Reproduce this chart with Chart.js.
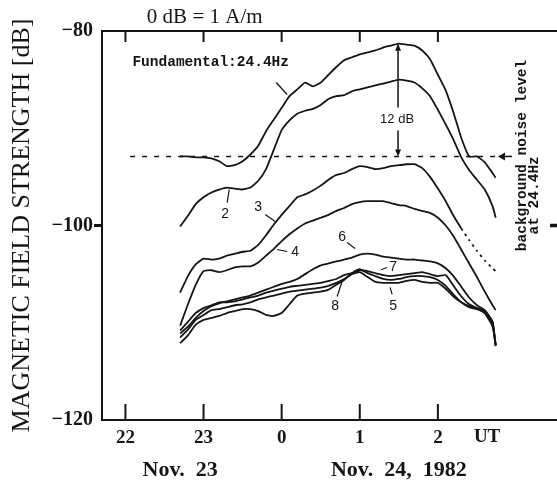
<!DOCTYPE html>
<html><head><meta charset="utf-8">
<script src="https://cdn.jsdelivr.net/npm/chart.js@4.4.0/dist/chart.umd.min.js"></script>
<style>html,body{margin:0;padding:0;background:#fff;}#wrap{width:557px;height:488px;}</style>
</head><body><div id="wrap"><canvas id="c" width="557" height="488"></canvas></div>
<script>
// time axis: hours relative to 0 UT, Nov. 24 (22 = -2, 23 = -1)
const hours = [-1.3,-1.2,-1.1,-1.0,-0.9,-0.8,-0.7,-0.6,-0.5,-0.4,-0.3,-0.2,-0.1,0.0,0.1,0.2,0.3,0.4,0.5,0.6,0.7,0.8,0.9,1.0,1.1,1.2,1.3,1.4,1.5,1.6,1.7,1.8,1.9,2.0,2.1,2.2,2.3,2.4,2.5,2.6,2.7,2.74];
const fundamental = [-92.9,-92.9,-93.0,-93.0,-93.1,-93.4,-93.9,-93.8,-93.4,-92.7,-91.8,-90.3,-89.1,-87.9,-86.7,-86.0,-85.3,-85.7,-85.3,-84.5,-83.7,-83.0,-82.7,-82.4,-82.2,-82.0,-81.7,-81.5,-81.3,-81.4,-81.5,-82.0,-82.9,-84.5,-86.1,-88.4,-91.0,-92.9,-92.9,-93.5,-94.6,-95.1];
const harmonic2 = [-100.1,-99.0,-97.8,-97.1,-96.6,-96.3,-96.1,-96.2,-96.3,-96.1,-95.4,-94.2,-92.2,-90.2,-89.2,-88.5,-88.2,-88.0,-87.6,-87.0,-86.7,-86.6,-86.2,-86.0,-85.8,-85.6,-85.4,-85.2,-85.0,-85.1,-85.3,-85.9,-86.7,-88.1,-89.6,-91.2,-93.0,-94.3,-95.3,-96.3,-98.0,-99.2];
const harmonic3 = [-106.9,-105.2,-104.0,-103.4,-103.5,-103.4,-103.1,-102.9,-102.7,-102.6,-102.0,-101.0,-99.9,-98.9,-98.0,-97.1,-96.8,-96.4,-95.9,-95.3,-94.8,-94.6,-94.2,-93.9,-94.0,-94.2,-94.1,-93.9,-93.8,-93.7,-93.7,-94.1,-95.0,-96.2,-97.5,-99.0,-100.3,-101.5,-102.6,-103.6,-104.4,-104.7];
const harmonic4 = [-110.3,-108.1,-106.1,-104.7,-104.6,-104.8,-104.6,-104.3,-104.2,-104.2,-103.8,-103.1,-102.4,-101.6,-100.9,-100.3,-99.8,-99.5,-99.2,-98.9,-98.5,-98.2,-97.8,-97.6,-97.5,-97.5,-97.5,-97.7,-97.9,-98.0,-98.3,-98.5,-98.7,-99.2,-100.0,-101.1,-102.5,-103.9,-105.3,-106.8,-108.2,-108.7];
const harmonic5 = [-111.5,-110.7,-109.7,-109.2,-108.7,-108.6,-108.4,-108.2,-108.1,-107.9,-107.6,-107.4,-107.2,-107.0,-106.8,-106.7,-106.6,-106.5,-106.4,-106.2,-105.9,-105.5,-105.0,-104.8,-105.3,-105.8,-105.9,-105.9,-105.9,-105.7,-105.6,-105.8,-105.9,-105.9,-106.5,-107.3,-107.9,-108.3,-108.5,-108.8,-109.9,-112.4];
const harmonic6 = [-111.1,-110.4,-109.5,-108.8,-108.3,-108.0,-107.8,-107.6,-107.4,-107.2,-106.9,-106.6,-106.3,-106.0,-105.8,-105.5,-105.0,-104.5,-104.1,-103.9,-103.7,-103.5,-103.3,-103.0,-102.9,-103.0,-103.2,-103.3,-103.4,-103.5,-103.5,-103.6,-103.7,-103.9,-104.4,-105.2,-106.3,-107.4,-108.2,-108.7,-109.9,-112.3];
const harmonic7 = [-110.8,-109.9,-109.0,-108.5,-108.2,-107.9,-107.9,-107.8,-107.6,-107.4,-107.2,-106.9,-106.7,-106.5,-106.3,-106.2,-106.1,-106.0,-105.9,-105.7,-105.5,-105.1,-104.9,-104.6,-104.7,-104.9,-105.1,-105.2,-105.1,-105.0,-104.9,-104.8,-105.0,-105.2,-105.1,-106.2,-107.3,-108.1,-108.5,-109.0,-110.4,-112.3];
const harmonic8 = [-112.1,-111.3,-110.2,-109.7,-109.5,-109.3,-109.0,-108.8,-108.6,-108.6,-108.8,-109.2,-109.3,-109.0,-108.1,-107.2,-107.0,-106.9,-106.8,-106.6,-106.1,-105.6,-104.9,-104.5,-104.9,-105.2,-105.5,-105.6,-105.5,-105.3,-105.2,-105.2,-105.3,-105.6,-106.2,-107.1,-107.9,-108.4,-108.6,-109.0,-110.2,-112.3];
const harmonic3DottedFrom = 2.3;      // curve 3 continues dotted after this hour
const noiseLevel = -92.9;             // background noise level at 24.4 Hz
const noiseSpan = [-1.94, 2.76];
const xTickValues = [-2, -1, 0, 1, 2];
const xTickLabels = ['22', '23', '0', '1', '2'];
const yTickValues = [-80, -100, -120];
const yTickLabels = ['\u221280', '\u2212100', '\u2212120'];
const xRange = [-2.3, 3.525];
const yRange = [-120, -80];

const INK = '#151515';
const pts = arr => hours.map((h, i) => ({x: h, y: arr[i]}));
const curve = (label, arr, extra) => Object.assign({
  label, data: pts(arr), borderColor: INK, borderWidth: 1.8, pointRadius: 0, tension: 0.15, fill: false
}, extra || {});

const datasets = [
  {label: 'noise', data: [{x: noiseSpan[0], y: noiseLevel}, {x: noiseSpan[1], y: noiseLevel}],
   borderColor: INK, borderWidth: 1.6, borderDash: [5, 7], pointRadius: 0, fill: false},
  curve('1', fundamental),
  curve('2', harmonic2),
  curve('3', harmonic3, {segment: {borderDash: c => c.p0.parsed.x >= harmonic3DottedFrom - 1e-6 ? [2.5, 4] : undefined}}),
  curve('4', harmonic4),
  curve('5', harmonic5),
  curve('6', harmonic6),
  curve('7', harmonic7),
  curve('8', harmonic8)
];

const serif = 'Liberation Serif, Times New Roman, serif';
const mono = 'Liberation Mono, Courier New, monospace';
const sans = 'Liberation Sans, Arial, sans-serif';

const deco = {
  id: 'deco',
  afterDraw(chart) {
    const ctx = chart.ctx, a = chart.chartArea, xs = chart.scales.x, ys = chart.scales.y;
    const X = v => xs.getPixelForValue(v), Y = v => ys.getPixelForValue(v);
    const line = (x1, y1, x2, y2, w) => { ctx.lineWidth = w || 1.5; ctx.beginPath(); ctx.moveTo(x1, y1); ctx.lineTo(x2, y2); ctx.stroke(); };
    ctx.save();
    ctx.strokeStyle = INK; ctx.fillStyle = INK; ctx.setLineDash([]);
    // frame: left, top, bottom
    line(a.left, a.top, a.left, a.bottom, 2);
    line(a.left - 1, a.top, a.right, a.top, 2);
    line(a.left - 1, a.bottom, a.right, a.bottom, 2);
    // inward time ticks
    xTickValues.forEach(v => { line(X(v), a.top, X(v), a.top + 11, 2); line(X(v), a.bottom, X(v), a.bottom - 16, 2); });
    // outward tick at -100 (left) and stub at right
    line(a.left - 8, Y(-100), a.left, Y(-100), 3);
    line(a.right - 7, Y(-100), a.right, Y(-100), 3.5);
    // header
    ctx.font = '21px ' + serif; ctx.textAlign = 'center'; ctx.textBaseline = 'middle';
    ctx.fillText('0 dB = 1 A/m', X(-0.985), a.top - 14);
    // UT + dates
    ctx.font = 'bold 19px ' + serif;
    ctx.fillText('UT', X(2.63), a.bottom + 17);
    ctx.font = 'bold 22px ' + serif;
    ctx.fillText('Nov.  23', X(-1.3), a.bottom + 50);
    ctx.fillText('Nov.  24,  1982', X(1.5), a.bottom + 50);
    // Fundamental label
    ctx.font = 'bold 14.5px ' + mono; ctx.textAlign = 'left';
    ctx.fillText('Fundamental:24.4Hz', X(-1.911), Y(-83.24));
    line(X(-0.07), Y(-85.3), X(0.07), Y(-86.53), 1.3);
    // 12 dB arrow
    const ax = X(1.49);
    line(ax, Y(-81.45), ax, Y(-87.87), 1.5);
    line(ax, Y(-90.23), ax, Y(-92.75), 1.5);
    const head = (x, y, dir) => { ctx.beginPath(); ctx.moveTo(x, y); ctx.lineTo(x - 3, y - 7 * dir); ctx.lineTo(x + 3, y - 7 * dir); ctx.closePath(); ctx.fill(); };
    head(ax, Y(-81.3), -1);
    head(ax, Y(noiseLevel), 1);
    ctx.font = '13px ' + sans; ctx.textAlign = 'center';
    ctx.fillText('12 dB', X(1.478), Y(-89.1));
    // noise arrow (pointing left)
    const ny = Y(noiseLevel);
    line(X(2.79), ny, X(2.95), ny, 1.5);
    ctx.beginPath(); ctx.moveTo(X(2.77), ny); ctx.lineTo(X(2.77) + 7, ny - 4); ctx.lineTo(X(2.77) + 7, ny + 4); ctx.closePath(); ctx.fill();
    // rotated noise text
    ctx.font = 'bold 14.5px ' + mono;
    [['background noise level', 3.077, -92.8], ['at 24.4Hz', 3.23, -96.9]].forEach(([t, h, d]) => {
      ctx.save(); ctx.translate(X(h), Y(d)); ctx.rotate(-Math.PI / 2); ctx.fillText(t, 0, 0); ctx.restore();
    });
    // curve number labels with leaders
    ctx.font = '14px ' + sans;
    const labels = [
      ['2', -0.723, -98.87, [-0.697, -97.64, -0.672, -96.3]],
      ['3', -0.301, -98.15, [-0.211, -98.87, -0.083, -99.59]],
      ['4', 0.173, -102.78, [-0.058, -102.47, 0.07, -102.67]],
      ['6', 0.774, -101.23, [0.838, -101.75, 0.94, -102.36]],
      ['7', 1.427, -104.32, [1.273, -104.55, 1.35, -104.32]],
      ['8', 0.685, -108.33, [0.71, -107.3, 0.774, -105.76]],
      ['5', 1.427, -108.33, [1.414, -107.09, 1.388, -106.37]]
    ];
    labels.forEach(([t, h, d, l]) => {
      ctx.fillText(t, X(h), Y(d));
      line(X(l[0]), Y(l[1]), X(l[2]), Y(l[3]), 1.2);
    });
    ctx.restore();
  }
};

new Chart(document.getElementById('c'), {
  type: 'line',
  data: {datasets},
  options: {
    responsive: false, animation: false, devicePixelRatio: 1,
    layout: {padding: {top: 31, right: 0, left: 0, bottom: 0}},
    plugins: {legend: {display: false}, tooltip: {enabled: false}},
    scales: {
      x: {
        type: 'linear', min: xRange[0], max: xRange[1],
        grid: {display: false, drawTicks: false}, border: {display: false},
        afterBuildTicks: s => { s.ticks = xTickValues.map(v => ({value: v})); },
        afterFit: s => { s.height = 68; },
        ticks: {autoSkip: false, maxRotation: 0, padding: 7, color: INK,
          font: {family: serif, size: 19, weight: 'bold'},
          callback: v => xTickLabels[xTickValues.indexOf(v)]}
      },
      y: {
        type: 'linear', min: yRange[0], max: yRange[1],
        grid: {display: false, drawTicks: false}, border: {display: false},
        afterBuildTicks: s => { s.ticks = yTickValues.map(v => ({value: v})); },
        afterFit: s => { s.width = 102; },
        ticks: {padding: 9, color: INK, font: {family: serif, size: 20, weight: 'bold'},
          callback: v => yTickLabels[yTickValues.indexOf(v)]},
        title: {display: true, text: 'MAGNETIC FIELD STRENGTH [dB]', color: INK,
          font: {family: serif, size: 26}, padding: {top: 7, bottom: 0}}
      }
    }
  },
  plugins: [deco]
});
</script></body></html>
